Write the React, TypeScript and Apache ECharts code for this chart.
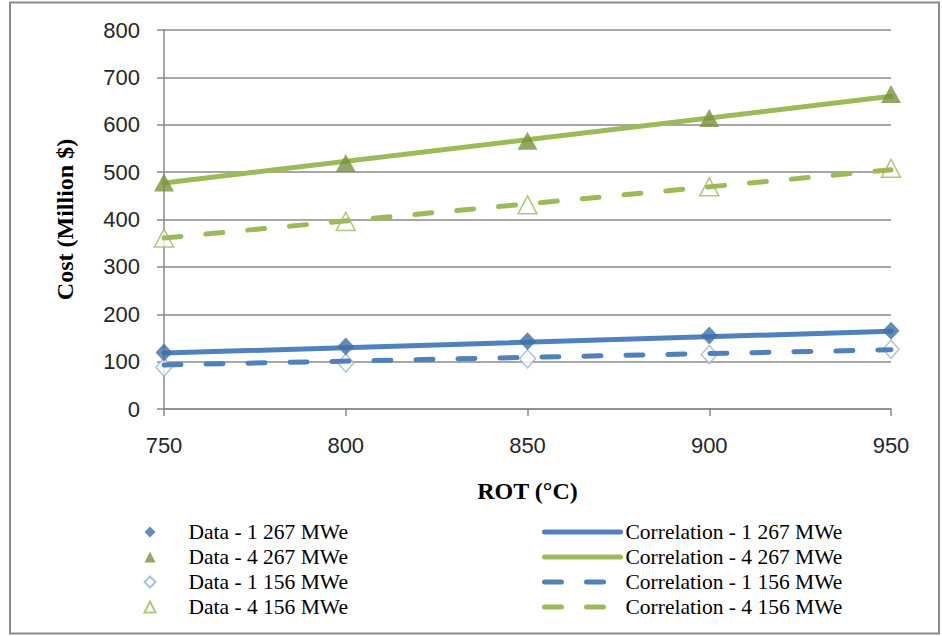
import React, { useEffect, useRef } from "react";
import * as echarts from "echarts";

// ROT temperatures (°C)
const temps = [750, 800, 850, 900, 950];
// Data points (Million $)
const data1_267 = [119, 132, 143, 155, 165];
const data4_267 = [478, 519, 566, 614, 665];
const data1_156 = [88, 97, 106, 115, 126];
const data4_156 = [361, 396, 431, 469, 508];
// Correlation end points
const corrX = [750, 950];
const corr1_267 = [118, 164];
const corr4_267 = [477, 660];
const corr1_156 = [93, 125];
const corr4_156 = [361, 505];

const dataNames = [
  "Data - 1 267 MWe",
  "Data - 4 267 MWe",
  "Data - 1 156 MWe",
  "Data - 4 156 MWe",
];
const corrNames = [
  "Correlation - 1 267 MWe",
  "Correlation - 4 267 MWe",
  "Correlation - 1 156 MWe",
  "Correlation - 4 156 MWe",
];

const BLUE = "#4F81BD";
const BLUE_DARK = "#3F6EA8";
const BLUE_LIGHT = "#95B3D7";
const GREEN = "#9BBB59";
const GREEN_DARK = "#77933C";
const GRID = "#8a8a8a";

const zip = (xs: number[], ys: number[]) => xs.map((x, i) => [x, ys[i]]);

export default function App() {
  const ref = useRef<HTMLDivElement>(null);
  useEffect(() => {
    if (!ref.current) return;
    const chart = echarts.init(ref.current, undefined, { renderer: "svg" });
    const legendText = {
      fontFamily: "Liberation Serif",
      fontSize: 21.5,
      color: "#000",
      lineHeight: 20,
    };
    const dashed = [17, 25];
    chart.setOption({
      animation: false,
      backgroundColor: "#fff",
      graphic: [
        {
          type: "rect",
          shape: { x: 10, y: 2.5, width: 929, height: 631 },
          style: { fill: "none", stroke: "#8c8c8c", lineWidth: 2 },
          silent: true,
        },
      ],
      grid: { left: 164, right: 51, top: 30, bottom: 227, containLabel: false },
      xAxis: {
        type: "value",
        min: 750,
        max: 950,
        interval: 50,
        name: "ROT (°C)",
        nameLocation: "middle",
        nameGap: 70,
        nameTextStyle: {
          fontFamily: "Liberation Serif",
          fontWeight: "bold",
          fontSize: 24,
          color: "#000",
        },
        axisLine: { show: true, lineStyle: { color: GRID, width: 1.5 } },
        axisTick: { show: true, length: 7, lineStyle: { color: GRID, width: 1.5 } },
        splitLine: { show: false },
        axisLabel: {
          fontFamily: "Liberation Sans",
          fontSize: 22,
          color: "#262626",
          margin: 25,
        },
      },
      yAxis: {
        type: "value",
        min: 0,
        max: 800,
        interval: 100,
        name: "Cost (Million $)",
        nameLocation: "middle",
        nameGap: 87,
        nameTextStyle: {
          fontFamily: "Liberation Serif",
          fontWeight: "bold",
          fontSize: 24,
          color: "#000",
        },
        axisLine: { show: true, lineStyle: { color: GRID, width: 1.5 } },
        axisTick: { show: true, length: 7, lineStyle: { color: GRID, width: 1.5 } },
        splitLine: { show: true, lineStyle: { color: GRID, width: 1.5 } },
        axisLabel: {
          fontFamily: "Liberation Sans",
          fontSize: 22,
          color: "#262626",
          margin: 24,
        },
      },
      legend: [
        {
          data: dataNames,
          orient: "vertical",
          left: 143.5,
          top: 521,
          padding: 0,
          itemWidth: 11,
          itemHeight: 11,
          itemGap: 3,
          textStyle: { ...legendText, padding: [0, 0, 0, 28] },
        },
        {
          data: corrNames,
          orient: "vertical",
          left: 542,
          top: 521,
          padding: 0,
          itemWidth: 76,
          itemHeight: 11,
          itemGap: 3,
          itemStyle: { opacity: 0 },
          lineStyle: { width: 5, cap: "round" },
          textStyle: legendText,
        },
      ],
      series: [
        {
          name: dataNames[2],
          type: "scatter",
          z: 2,
          symbol: "diamond",
          symbolSize: [16, 18],
          itemStyle: { color: "#fff", borderColor: BLUE_LIGHT, borderWidth: 1.5 },
          data: zip(temps, data1_156),
        },
        {
          name: dataNames[3],
          type: "scatter",
          z: 2,
          symbol: "triangle",
          symbolSize: [19, 18],
          itemStyle: { color: "#fff", borderColor: GREEN, borderWidth: 1.5 },
          data: zip(temps, data4_156),
        },
        {
          name: corrNames[0],
          type: "line",
          z: 3,
          symbol: "none",
          lineStyle: { color: BLUE, width: 5, cap: "round" },
          itemStyle: { color: BLUE },
          data: zip(corrX, corr1_267),
        },
        {
          name: corrNames[1],
          type: "line",
          z: 3,
          symbol: "none",
          lineStyle: { color: GREEN, width: 5, cap: "round" },
          itemStyle: { color: GREEN },
          data: zip(corrX, corr4_267),
        },
        {
          name: corrNames[2],
          type: "line",
          z: 3,
          symbol: "none",
          lineStyle: { color: BLUE, width: 5, type: dashed, cap: "round" },
          itemStyle: { color: BLUE },
          data: zip(corrX, corr1_156),
        },
        {
          name: corrNames[3],
          type: "line",
          z: 3,
          symbol: "none",
          lineStyle: { color: GREEN, width: 5, type: dashed, cap: "round" },
          itemStyle: { color: GREEN },
          data: zip(corrX, corr4_156),
        },
        {
          name: dataNames[0],
          type: "scatter",
          z: 4,
          symbol: "diamond",
          symbolSize: [17, 18],
          itemStyle: { color: BLUE_DARK },
          data: zip(temps, data1_267),
        },
        {
          name: dataNames[1],
          type: "scatter",
          z: 4,
          symbol: "triangle",
          symbolSize: [20, 18],
          itemStyle: { color: GREEN_DARK },
          data: zip(temps, data4_267),
        },
      ],
    });
    return () => chart.dispose();
  }, []);
  return (
    <div
      ref={ref}
      style={{
        position: "fixed",
        left: 0,
        top: 0,
        width: 942,
        height: 636,
        background: "#fff",
      }}
    />
  );
}
